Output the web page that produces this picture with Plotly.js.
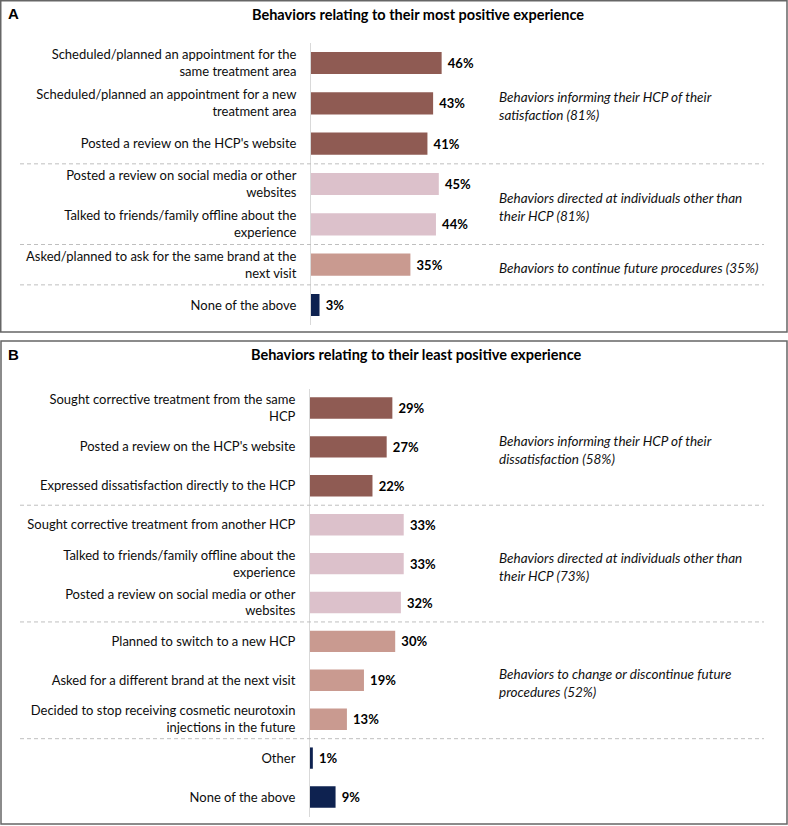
<!DOCTYPE html>
<html>
<head>
<meta charset="utf-8">
<script src="https://cdn.plot.ly/plotly-3.0.1.min.js"></script>
<style>html,body{margin:0;padding:0;background:#fff}#chart{width:788px;height:826px}</style>
</head>
<body>
<div id="chart"></div>
<script>
// ---------- data ----------
const titleA = "Behaviors relating to their most positive experience";
const titleB = "Behaviors relating to their least positive experience";

const labelsA = [
  "Scheduled/planned an appointment for the<br>same treatment area",
  "Scheduled/planned an appointment for a new<br>treatment area",
  "Posted a review on the HCP's website",
  "Posted a review on social media or other<br>websites",
  "Talked to friends/family offline about the<br>experience",
  "Asked/planned to ask for the same brand at the<br>next visit",
  "None of the above"
];
const valuesA = [46, 43, 41, 45, 44, 35, 3];
const groupsA = [0, 0, 0, 1, 1, 2, 3];
const notesA = [
  "Behaviors informing their HCP of their<br>satisfaction (81%)",
  "Behaviors directed at individuals other than<br>their HCP (81%)",
  "Behaviors to continue future procedures (35%)"
];

const labelsB = [
  "Sought corrective treatment from the same<br>HCP",
  "Posted a review on the HCP's website",
  "Expressed dissatisfaction directly to the HCP",
  "Sought corrective treatment from another HCP",
  "Talked to friends/family offline about the<br>experience",
  "Posted a review on social media or other<br>websites",
  "Planned to switch to a new HCP",
  "Asked for a different brand at the next visit",
  "Decided to stop receiving cosmetic neurotoxin<br>injections in the future",
  "Other",
  "None of the above"
];
const valuesB = [29, 27, 22, 33, 33, 32, 30, 19, 13, 1, 9];
const groupsB = [0, 0, 0, 1, 1, 1, 2, 2, 2, 3, 3];
const notesB = [
  "Behaviors informing their HCP of their<br>dissatisfaction (58%)",
  "Behaviors directed at individuals other than<br>their HCP (73%)",
  "Behaviors to change or discontinue future<br>procedures (52%)"
];

// ---------- styles ----------
const groupColors = ["#8F5B53", "#DCC1CB", "#C99A90", "#0E2250"];
const W = 788, H = 826;
const FONT = "Lato, 'Open Sans', sans-serif";
const px = v => v / W;
const py = v => 1 - v / H;

function barTrace(labels, values, groups, xa, ya) {
  return {
    type: "bar", orientation: "h",
    y: labels, x: values,
    xaxis: xa, yaxis: ya,
    marker: { color: groups.map(g => groupColors[g]), line: { width: 0 } },
    text: values.map(v => "\u00A0" + v + "%"),
    textposition: "outside",
    constraintext: "none",
    cliponaxis: false,
    textfont: { family: FONT, size: 13, color: "#000", weight: "bold" },
    hoverinfo: "skip",
    width: 0.55
  };
}

const data = [
  barTrace(labelsA, valuesA, groupsA, "x", "y"),
  barTrace(labelsB, valuesB, groupsB, "x2", "y2")
];

function boundaries(groups) {
  const out = [];
  for (let i = 1; i < groups.length; i++) if (groups[i] !== groups[i - 1]) out.push(i - 0.5);
  return out;
}
function groupCenters(groups, n) {
  const c = [];
  for (let g = 0; g < n; g++) {
    const idx = groups.map((v, i) => v === g ? i : -1).filter(i => i >= 0);
    c.push(idx.reduce((a, b) => a + b, 0) / idx.length);
  }
  return c;
}

const shapes = [];
// panel borders
shapes.push({ type: "rect", xref: "paper", yref: "paper", x0: px(0.75), x1: px(787), y0: py(0.75), y1: py(332),
  line: { color: "#666666", width: 1.5 } });
shapes.push({ type: "rect", xref: "paper", yref: "paper", x0: px(1), x1: px(787), y0: py(341), y1: py(824),
  line: { color: "#666666", width: 1.5 } });
boundaries(groupsA).forEach(b => shapes.push({ type: "line", xref: "paper", yref: "y", x0: px(20), x1: px(764), y0: b, y1: b,
  line: { color: "#BFBFBF", width: 1, dash: "4px,3px" } }));
boundaries(groupsB).forEach(b => shapes.push({ type: "line", xref: "paper", yref: "y2", x0: px(20), x1: px(764), y0: b, y1: b,
  line: { color: "#BFBFBF", width: 1, dash: "4px,3px" } }));

const annotations = [];
annotations.push({ xref: "paper", yref: "paper", x: px(6), y: py(13), text: "<b>A</b>", showarrow: false,
  xanchor: "left", yanchor: "middle", font: { family: "Arial, 'Liberation Sans', sans-serif", size: 15, color: "#000" } });
annotations.push({ xref: "paper", yref: "paper", x: px(6), y: py(354), text: "<b>B</b>", showarrow: false,
  xanchor: "left", yanchor: "middle", font: { family: "Arial, 'Liberation Sans', sans-serif", size: 15, color: "#000" } });
annotations.push({ xref: "paper", yref: "paper", x: px(418), y: py(15), text: "<b>" + titleA + "</b>", showarrow: false,
  xanchor: "center", yanchor: "middle", font: { family: FONT, size: 14.5, color: "#000" } });
annotations.push({ xref: "paper", yref: "paper", x: px(417), y: py(354), text: "<b>" + titleB + "</b>", showarrow: false,
  xanchor: "center", yanchor: "middle", font: { family: FONT, size: 14.5, color: "#000" } });
groupCenters(groupsA, notesA.length).forEach((c, i) => annotations.push({ xref: "paper", yref: "y", x: px(497), y: c,
  text: "<i>" + notesA[i] + "</i>", showarrow: false, xanchor: "left", yanchor: "middle", align: "left", yshift: -3,
  font: { family: FONT, size: 13.5, color: "#111" } }));
groupCenters(groupsB, notesB.length).forEach((c, i) => annotations.push({ xref: "paper", yref: "y2", x: px(497), y: c,
  text: "<i>" + notesB[i] + "</i>", showarrow: false, xanchor: "left", yanchor: "middle", align: "left", yshift: -3,
  font: { family: FONT, size: 13.5, color: "#111" } }));

const xCommon = { range: [0, 100], showgrid: false, zeroline: false, showline: false, showticklabels: false, ticks: "", fixedrange: true };
function yCommon(n, top, bottom) {
  return {
    type: "category", range: [n - 0.5, -0.5], domain: [py(bottom), py(top)],
    showgrid: false, zeroline: false, showline: true, linecolor: "#D9D9D9", linewidth: 1,
    ticks: "outside", ticklen: 11, tickcolor: "rgba(0,0,0,0)",
    tickfont: { family: FONT, size: 13, color: "#0d0d0d" }, automargin: false, fixedrange: true
  };
}

const layout = {
  width: W, height: H,
  margin: { l: 0, r: 0, t: 0, b: 0 },
  paper_bgcolor: "#fff", plot_bgcolor: "rgba(0,0,0,0)",
  showlegend: false,
  bargap: 0.45,
  xaxis: Object.assign({}, xCommon, { domain: [px(311), px(311 + 284)], anchor: "y" }),
  yaxis: Object.assign(yCommon(labelsA.length, 42.8, 325.2), { anchor: "x" }),
  xaxis2: Object.assign({}, xCommon, { domain: [px(310), px(310 + 284)], anchor: "y2" }),
  yaxis2: Object.assign(yCommon(labelsB.length, 388.5, 816.5), { anchor: "x2" }),
  shapes: shapes,
  annotations: annotations
};

Plotly.newPlot("chart", data, layout, { staticPlot: true, displayModeBar: false });
</script>
</body>
</html>
